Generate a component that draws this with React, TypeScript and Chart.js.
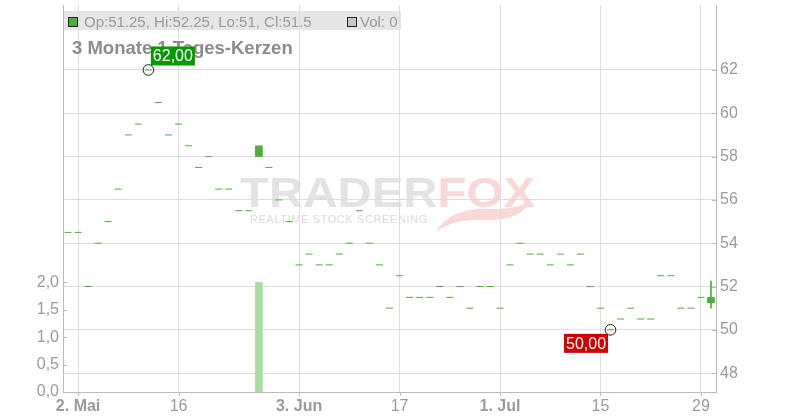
import React, { useEffect, useRef } from "react";
import { Chart, registerables } from "chart.js";

Chart.register(...registerables);

// ---- data ----
const dates = [
  "30.04", "02.05", "03.05", "06.05", "07.05", "08.05", "09.05", "10.05", "13.05", "14.05",
  "15.05", "16.05", "17.05", "20.05", "21.05", "22.05", "23.05", "24.05", "27.05", "28.05",
  "29.05", "30.05", "31.05", "03.06", "04.06", "05.06", "06.06", "07.06", "10.06", "11.06",
  "12.06", "13.06", "14.06", "17.06", "18.06", "19.06", "20.06", "21.06", "24.06", "25.06",
  "26.06", "27.06", "28.06", "01.07", "02.07", "03.07", "04.07", "05.07", "08.07", "09.07",
  "10.07", "11.07", "12.07", "15.07", "16.07", "17.07", "18.07", "19.07", "22.07", "23.07",
  "24.07", "25.07", "26.07", "29.07", "30.07",
];
const open = [
  54.5, 54.5, 52, 54, 55, 56.5, 59, 59.5, 62, 60.5,
  59, 59.5, 58.5, 57.5, 58, 56.5, 56.5, 55.5, 55.5, 58,
  57.5, 56, 55, 53, 53.5, 53, 53, 53.5, 54, 55.5,
  54, 53, 51, 52.5, 51.5, 51.5, 51.5, 52, 51.5, 52,
  51, 52, 52, 51, 53, 54, 53.5, 53.5, 53, 53.5,
  53, 53.5, 52, 51, 50, 50.5, 51, 50.5, 50.5, 52.5,
  52.5, 51, 51, 51.5, 51.25,
];
const high = [
  54.5, 54.5, 52, 54, 55, 56.5, 59, 59.5, 62, 60.5,
  59, 59.5, 58.5, 57.5, 58, 56.5, 56.5, 55.5, 55.5, 58.5,
  57.5, 56, 55, 53, 53.5, 53, 53, 53.5, 54, 55.5,
  54, 53, 51, 52.5, 51.5, 51.5, 51.5, 52, 51.5, 52,
  51, 52, 52, 51, 53, 54, 53.5, 53.5, 53, 53.5,
  53, 53.5, 52, 51, 50, 50.5, 51, 50.5, 50.5, 52.5,
  52.5, 51, 51, 51.5, 52.25,
];
const low = [
  54.5, 54.5, 52, 54, 55, 56.5, 59, 59.5, 62, 60.5,
  59, 59.5, 58.5, 57.5, 58, 56.5, 56.5, 55.5, 55.5, 58,
  57.5, 56, 55, 53, 53.5, 53, 53, 53.5, 54, 55.5,
  54, 53, 51, 52.5, 51.5, 51.5, 51.5, 52, 51.5, 52,
  51, 52, 52, 51, 53, 54, 53.5, 53.5, 53, 53.5,
  53, 53.5, 52, 51, 50, 50.5, 51, 50.5, 50.5, 52.5,
  52.5, 51, 51, 51.5, 51,
];
const close = [
  54.5, 54.5, 52, 54, 55, 56.5, 59, 59.5, 62, 60.5,
  59, 59.5, 58.5, 57.5, 58, 56.5, 56.5, 55.5, 55.5, 58.5,
  57.5, 56, 55, 53, 53.5, 53, 53, 53.5, 54, 55.5,
  54, 53, 51, 52.5, 51.5, 51.5, 51.5, 52, 51.5, 52,
  51, 52, 52, 51, 53, 54, 53.5, 53.5, 53, 53.5,
  53, 53.5, 52, 51, 50, 50.5, 51, 50.5, 50.5, 52.5,
  52.5, 51, 51, 51.5, 51.5,
];
const volume = [
  0, 0, 0, 0, 0, 0, 0, 0, 0, 0,
  0, 0, 0, 0, 0, 0, 0, 0, 0, 2,
  0, 0, 0, 0, 0, 0, 0, 0, 0, 0,
  0, 0, 0, 0, 0, 0, 0, 0, 0, 0,
  0, 0, 0, 0, 0, 0, 0, 0, 0, 0,
  0, 0, 0, 0, 0, 0, 0, 0, 0, 0,
  0, 0, 0, 0, 0,
];
const priceTicks = [48, 50, 52, 54, 56, 58, 60, 62];
const volTicks = [0, 0.5, 1, 1.5, 2];
const tickDates = ["02.05", "16.05", "03.06", "17.06", "01.07", "15.07", "29.07"];
const tickTexts = ["2. Mai", "16", "3. Jun", "17", "1. Jul", "15", "29"];
const tickBold = [true, false, true, false, true, false, false];
const titleText = "3 Monate 1 Tages-Kerzen";

// ---- styles ----
const FONT = "'Liberation Sans', Arial, Helvetica, sans-serif";
const GREEN = "rgb(76,175,58)";
const VOL_GREEN = "rgb(170,221,160)";
const GRID = "#dddddd";
const AXIS = "#bbbbbb";
const TXT = "#9a9a9a";

const fmt = (v: number) => v.toFixed(2).replace(".", ",");
const tickPos = (i: number) => tickDates.indexOf(dates[i]);

const overlay = {
  id: "overlay",
  beforeDraw(chart: any) {
    const ctx: CanvasRenderingContext2D = chart.ctx;
    // watermark
    ctx.save();
    ctx.font = `bold 42px ${FONT}`;
    ctx.textBaseline = "alphabetic";
    const w1 = ctx.measureText("TRADER").width;
    const w2 = ctx.measureText("FOX").width;
    const sx = 295 / (w1 + w2);
    ctx.translate(240, 207);
    ctx.scale(sx, 1);
    ctx.fillStyle = "#e3e3e3";
    ctx.fillText("TRADER", 0, 0);
    ctx.fillStyle = "#fbd8d8";
    ctx.fillText("FOX", w1, 0);
    ctx.restore();
    ctx.save();
    ctx.fillStyle = "#fbd8d8";
    ctx.beginPath();
    ctx.moveTo(436, 232);
    ctx.quadraticCurveTo(450, 206, 495, 209);
    ctx.quadraticCurveTo(520, 209, 532, 199);
    ctx.quadraticCurveTo(522, 222, 482, 220);
    ctx.quadraticCurveTo(452, 219, 436, 232);
    ctx.fill();
    ctx.restore();
    ctx.save();
    ctx.font = `11px ${FONT}`;
    (ctx as any).letterSpacing = "0.6px";
    ctx.fillStyle = "#dadada";
    ctx.textBaseline = "alphabetic";
    ctx.fillText("REALTIME STOCK SCREENING", 250, 223);
    ctx.restore();
  },
  afterDatasetsDraw(chart: any) {
    const ctx: CanvasRenderingContext2D = chart.ctx;
    const area = chart.chartArea;
    const xS = chart.scales.x;
    const yS = chart.scales.y;
    const vS = chart.scales.yVol;
    ctx.save();
    // inner tick marks
    ctx.strokeStyle = AXIS;
    ctx.lineWidth = 1;
    ctx.beginPath();
    for (const v of priceTicks) {
      const py = Math.round(yS.getPixelForValue(v)) + 0.5;
      ctx.moveTo(area.right - 4, py);
      ctx.lineTo(area.right, py);
    }
    for (const v of volTicks) {
      const py = Math.round(vS.getPixelForValue(v)) + 0.5;
      ctx.moveTo(area.left, py);
      ctx.lineTo(area.left + 4, py);
    }
    for (const d of tickDates) {
      const px = Math.round(xS.getPixelForValue(dates.indexOf(d))) + 0.5;
      ctx.moveTo(px, area.bottom);
      ctx.lineTo(px, area.bottom + 4);
    }
    ctx.stroke();

    // header bar
    const last = dates.length - 1;
    ctx.fillStyle = "rgba(224,224,224,0.8)";
    ctx.fillRect(area.left + 1, 11, 401 - area.left - 1, 19);
    ctx.fillStyle = GREEN;
    ctx.fillRect(68, 17, 10, 10);
    ctx.strokeStyle = "#222";
    ctx.strokeRect(68.5, 17.5, 9, 9);
    ctx.fillStyle = "#c8c8c8";
    ctx.fillRect(347, 17, 10, 10);
    ctx.strokeRect(347.5, 17.5, 9, 9);
    ctx.font = `15px ${FONT}`;
    ctx.fillStyle = TXT;
    ctx.textBaseline = "alphabetic";
    ctx.textAlign = "left";
    ctx.fillText(`Op:${open[last]}, Hi:${high[last]}, Lo:${low[last]}, Cl:${close[last]}`, 84, 27);
    ctx.fillText(`Vol: ${volume[last]}`, 360, 27);

    // title
    ctx.font = `bold 18.5px ${FONT}`;
    ctx.fillStyle = "#8c8c8c";
    ctx.fillText(titleText, 72, 54);

    // high / low markers
    let hi = 0;
    let lo = 0;
    high.forEach((v, i) => { if (v > high[hi]) hi = i; });
    low.forEach((v, i) => { if (v < low[lo]) lo = i; });
    const drawMarker = (i: number, v: number, isHigh: boolean) => {
      const px = xS.getPixelForValue(i);
      const py = yS.getPixelForValue(v);
      ctx.beginPath();
      ctx.arc(px, py, 5.3, 0, Math.PI * 2);
      ctx.strokeStyle = "#222";
      ctx.lineWidth = 1;
      ctx.stroke();
      const bw = 44;
      const bh = 19;
      const bx = isHigh ? px + 2.5 : px - 2.5 - bw;
      const by = isHigh ? py - 4.5 - bh : py + 4;
      ctx.fillStyle = isHigh ? "#009a00" : "#cc0000";
      ctx.fillRect(bx, by, bw, bh);
      ctx.fillStyle = "#ffffff";
      ctx.font = `16px ${FONT}`;
      ctx.textAlign = "center";
      ctx.textBaseline = "middle";
      ctx.fillText(fmt(v), bx + bw / 2, by + bh / 2 + 1);
    };
    drawMarker(hi, high[hi], true);
    drawMarker(lo, low[lo], false);
    ctx.restore();
  },
};

export default function App() {
  const ref = useRef<HTMLCanvasElement>(null);
  useEffect(() => {
    const canvas = ref.current!;
    const flat = close.map((c, i) => (open[i] === c && high[i] === c && low[i] === c ? c : null));
    const bodies = close.map((c, i) => (open[i] !== c ? [open[i], c] : null));
    const wicks = close.map((c, i) =>
      high[i] > Math.max(open[i], c) || low[i] < Math.min(open[i], c) ? [low[i], high[i]] : null
    );
    const volBars = volume.map((v) => (v > 0 ? v : null));
    const chart = new Chart(canvas, {
      type: "bar",
      data: {
        labels: dates,
        datasets: [
          {
            type: "bar",
            data: volBars,
            yAxisID: "yVol",
            backgroundColor: VOL_GREEN,
            barThickness: 7,
            grouped: false,
            order: 4,
          } as any,
          {
            type: "bar",
            data: wicks,
            yAxisID: "y",
            backgroundColor: GREEN,
            barThickness: 1,
            grouped: false,
            order: 3,
          } as any,
          {
            type: "bar",
            data: bodies,
            yAxisID: "y",
            backgroundColor: GREEN,
            barThickness: 7,
            grouped: false,
            order: 2,
          } as any,
          {
            type: "line",
            data: flat,
            yAxisID: "y",
            showLine: false,
            pointStyle: "line",
            pointRadius: 3.5,
            pointBorderWidth: 1,
            pointBorderColor: GREEN,
            pointBackgroundColor: GREEN,
            order: 1,
          } as any,
        ],
      },
      options: {
        responsive: false,
        animation: false,
        layout: { padding: 0 },
        plugins: { legend: { display: false }, tooltip: { enabled: false } },
        scales: {
          x: {
            type: "category",
            offset: true,
            grid: {
              offset: false,
              drawTicks: false,
              color: (c: any) => (tickPos(c.index) >= 0 ? GRID : "rgba(0,0,0,0)"),
            },
            border: { color: AXIS },
            ticks: {
              autoSkip: false,
              maxRotation: 0,
              minRotation: 0,
              padding: 5,
              color: TXT,
              font: (c: any) => {
                const k = tickPos(c.index);
                return { family: FONT, size: 16, weight: k >= 0 && tickBold[k] ? "bold" : "normal" };
              },
              callback: (_v: any, i: number) => {
                const k = tickPos(i);
                return k >= 0 ? tickTexts[k] : "";
              },
            },
            afterFit: (s: any) => {
              s.height = 28;
              s.paddingLeft = 0;
              s.paddingRight = 0;
            },
          } as any,
          y: {
            position: "right",
            min: 47.13,
            max: 65.0,
            grid: { color: GRID, drawTicks: false },
            border: { color: AXIS },
            ticks: {
              color: TXT,
              padding: 4,
              font: { family: FONT, size: 16 },
              callback: (v: any) => String(v),
            },
            afterBuildTicks: (s: any) => {
              s.ticks = priceTicks.map((v) => ({ value: v }));
            },
            afterFit: (s: any) => {
              s.width = 84;
              s.paddingTop = 0;
              s.paddingBottom = 0;
            },
          } as any,
          yVol: {
            position: "left",
            min: 0,
            max: 7.063,
            grid: { display: false, drawTicks: false },
            border: { color: AXIS },
            ticks: {
              color: TXT,
              padding: 4,
              font: { family: FONT, size: 16 },
              callback: (v: any) => Number(v).toFixed(1).replace(".", ","),
            },
            afterBuildTicks: (s: any) => {
              s.ticks = volTicks.map((v) => ({ value: v }));
            },
            afterFit: (s: any) => {
              s.width = 63;
              s.paddingTop = 0;
              s.paddingBottom = 0;
            },
          } as any,
        },
      },
      plugins: [overlay],
    });
    return () => chart.destroy();
  }, []);
  return (
    <div style={{ position: "fixed", left: 0, top: 0, width: 800, height: 420, background: "#fff" }}>
      <canvas ref={ref} width={800} height={420} style={{ display: "block" }} />
    </div>
  );
}
